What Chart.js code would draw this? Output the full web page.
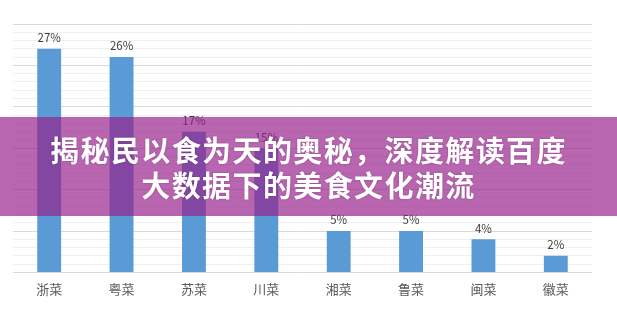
<!DOCTYPE html>
<html>
<head>
<meta charset="utf-8">
<script src="https://cdn.jsdelivr.net/npm/chart.js@4.4.1/dist/chart.umd.min.js"></script>
<style>
  html, body { margin: 0; padding: 0; background: #ffffff; }
  #wrap { position: relative; width: 617px; height: 334px; overflow: hidden; }
  #chart { position: absolute; left: 0; top: 0; }
  #banner {
    position: absolute; left: 0; top: 117px; width: 617px; height: 99px;
    background: rgba(150, 30, 138, 0.68);
    display: flex; flex-direction: column; align-items: center; justify-content: center;
    font-family: "Noto Sans CJK SC", sans-serif; font-weight: 700;
    font-size: 29px; line-height: 35px; letter-spacing: 1.4px; color: #ffffff;
    text-shadow: 0 0 2px rgba(60, 0, 60, 0.35);
  }
</style>
</head>
<body>
<div id="wrap">
  <canvas id="chart" width="617" height="334"></canvas>
  <div id="banner">
    <div>揭秘民以食为天的奥秘，深度解读百度</div>
    <div>大数据下的美食文化潮流</div>
  </div>
</div>
<script>
// Share of attention by regional cuisine (percent)
const cuisines = ["浙菜", "粤菜", "苏菜", "川菜", "湘菜", "鲁菜", "闽菜", "徽菜"];
const shares = [27, 26, 17, 15, 5, 5, 4, 2];
const axisMax = 30;

// Writes the percentage above each bar
const barValueLabels = {
  id: "barValueLabels",
  afterDatasetsDraw(chart) {
    const ctx = chart.ctx;
    const meta = chart.getDatasetMeta(0);
    ctx.save();
    ctx.font = '11.5px "Noto Sans CJK SC", sans-serif';
    ctx.fillStyle = "#404040";
    ctx.textAlign = "center";
    ctx.textBaseline = "middle";
    meta.data.forEach((bar, i) => {
      ctx.fillText(shares[i] + "%", bar.x, bar.y - 11);
    });
    ctx.restore();
  }
};

new Chart(document.getElementById("chart"), {
  type: "bar",
  data: {
    labels: cuisines,
    datasets: [{
      data: shares,
      backgroundColor: "#5b9bd5",
      borderWidth: 0,
      categoryPercentage: 1,
      barPercentage: 0.33
    }]
  },
  options: {
    responsive: false,
    animation: false,
    events: [],
    layout: { padding: { left: 13, right: 25, top: 24, bottom: 28 } },
    plugins: { legend: { display: false }, tooltip: { enabled: false } },
    scales: {
      x: {
        grid: { display: false, drawTicks: false },
        border: { display: false },
        ticks: {
          padding: 9,
          color: "#595959",
          font: { family: '"Noto Sans CJK SC", sans-serif', size: 13 }
        }
      },
      y: {
        min: 0,
        max: axisMax,
        border: { display: false },
        grid: {
          drawTicks: false,
          color: (c) => (c.tick && c.tick.value % 5 === 0 ? "#d9d9d9" : "#efefef"),
          lineWidth: 1
        },
        ticks: { display: false, stepSize: 1 }
      }
    }
  },
  plugins: [barValueLabels]
});
</script>
</body>
</html>
